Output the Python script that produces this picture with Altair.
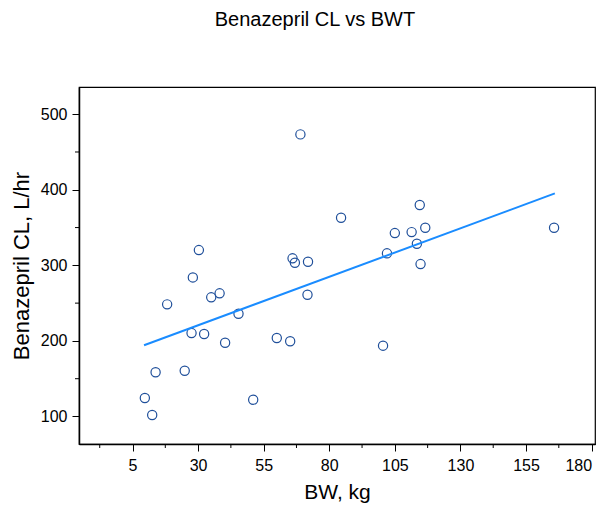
import altair as alt
import pandas as pd

# Data
bw_kg = [69.0, 84.5, 30.3, 66.0, 66.9, 71.9, 28.0, 114.5, 105.0, 111.4, 116.6,
         113.4, 102.0, 114.8, 165.7, 18.2, 35.0, 38.2, 45.4, 71.7, 27.5, 32.3,
         40.3, 60.0, 65.1, 13.8, 24.9, 9.7, 12.5, 51.0, 100.5]
cl_lhr = [473.3, 363.0, 320.2, 309.3, 303.4, 304.8, 284.0, 379.8, 342.7, 344.0, 349.7,
          328.6, 315.9, 301.7, 349.7, 248.4, 257.7, 263.0, 236.0, 261.1, 210.4, 209.1,
          197.6, 203.8, 199.5, 158.5, 160.6, 124.5, 102.0, 122.2, 193.7]

# fitted line as drawn in the reference (end points)
fit_bw = [9.4, 166.0]
fit_cl = [194.2, 395.2]

x_major = [5, 30, 55, 80, 105, 130, 155, 180]
x_minor = [-7.5, 17.5, 42.5, 67.5, 92.5, 117.5, 142.5, 167.5]
y_major = [100, 200, 300, 400, 500]
y_minor = [150, 250, 350, 450]
x_domain = [-15.4, 181.3]
y_domain = [63.6, 536]

W, H = 516, 357

df = pd.DataFrame({"BW": bw_kg, "CL": cl_lhr})
fit_df = pd.DataFrame({"BW": fit_bw, "CL": fit_cl})
xminor_df = pd.DataFrame({"BW": x_minor})
yminor_df = pd.DataFrame({"CL": y_minor})

FONT = "Liberation Sans"

common_axis = dict(
    format="d",
    grid=False,
    domainColor="black",
    domainWidth=1.5,
    tickColor="black",
    tickSize=7,
    labelColor="black",
    titleColor="black",
    labelFont=FONT,
    titleFont=FONT,
    labelFontSize=16,
    titleFontWeight="normal",
)

xs = alt.Scale(domain=x_domain, nice=False, zero=False)
ys = alt.Scale(domain=y_domain, nice=False, zero=False)

x_enc = alt.X(
    "BW:Q",
    scale=xs,
    axis=alt.Axis(
        title="BW, kg",
        values=x_major,
        labelFlush=5,
        titleFontSize=21,
        labelPadding=6,
        titlePadding=8,
        **common_axis,
    ),
)
y_enc = alt.Y(
    "CL:Q",
    scale=ys,
    axis=alt.Axis(
        title="Benazepril CL, L/hr",
        values=y_major,
        titleFontSize=22,
        labelPadding=5,
        titlePadding=7,
        **common_axis,
    ),
)

points = alt.Chart(df).mark_point(
    shape="circle", filled=False, size=85, color="#1f4f9a", strokeWidth=1.2, opacity=1
).encode(x=x_enc, y=y_enc)

line = alt.Chart(fit_df).mark_line(
    color="#1a8cff", strokeWidth=2
).encode(x=alt.X("BW:Q"), y=alt.Y("CL:Q"))

# minor axis ticks (outside the plot frame)
x_minor_ticks = alt.Chart(xminor_df).mark_rule(color="black", strokeWidth=1).encode(
    x=alt.X("BW:Q"), y=alt.value(H), y2=alt.value(H + 4)
)
y_minor_ticks = alt.Chart(yminor_df).mark_rule(color="black", strokeWidth=1).encode(
    y=alt.Y("CL:Q"), x=alt.value(-4), x2=alt.value(0)
)

chart = alt.layer(points, line, x_minor_ticks, y_minor_ticks).properties(
    width=W,
    height=H,
    title=alt.TitleParams(
        "Benazepril CL vs BWT",
        font=FONT,
        fontSize=20,
        fontWeight="normal",
        color="black",
        anchor="middle",
        offset=57,
        dx=-22,
    ),
    autosize=alt.AutoSizeParams(type="none"),
    padding={"left": 71, "top": 79, "right": 4, "bottom": 60},
).configure_view(stroke="black", strokeWidth=1.2)

chart.save("out.html", embed_options={"renderer": "svg", "actions": False})
